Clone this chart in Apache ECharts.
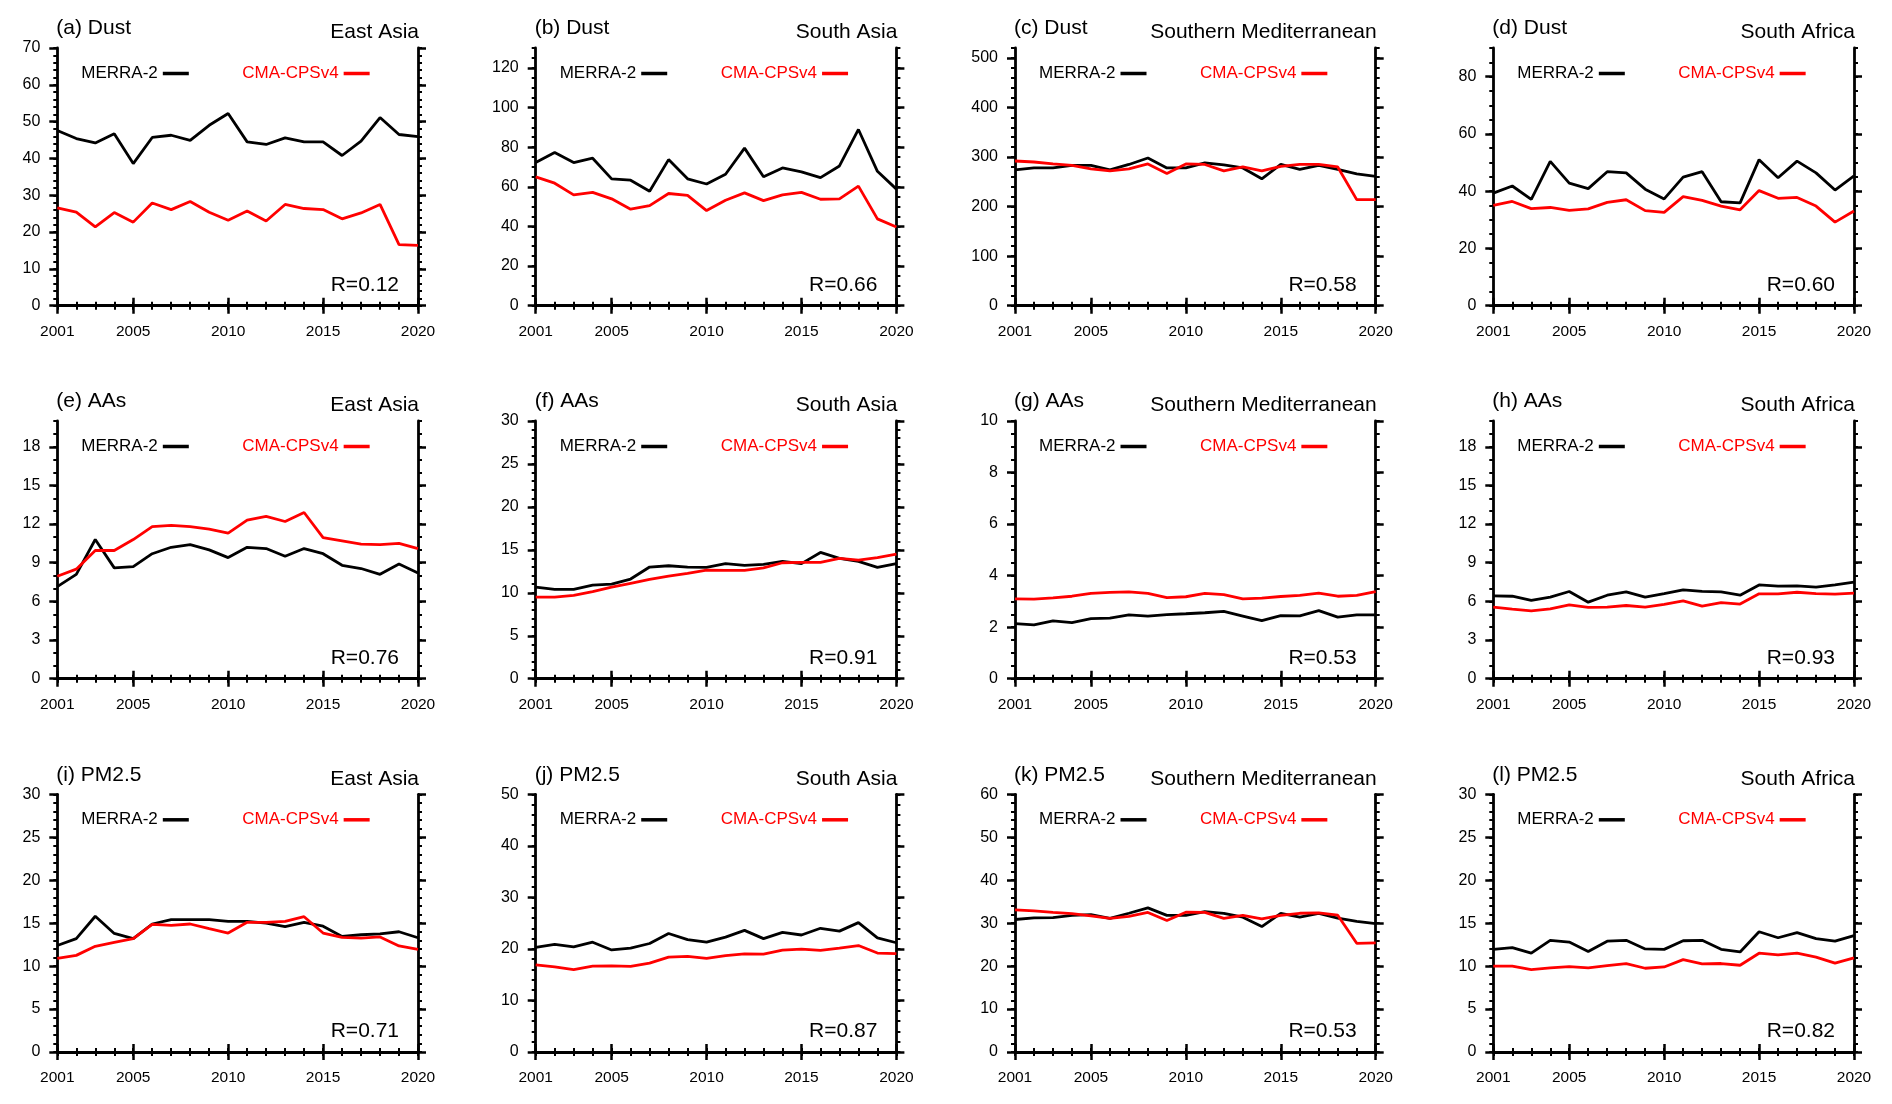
<!DOCTYPE html>
<html>
<head>
<meta charset="utf-8">
<script src="https://cdn.jsdelivr.net/npm/echarts@6/dist/echarts.min.js"></script>
<style>
html,body{margin:0;padding:0;background:#fff;}
#chart{width:1892px;height:1104px;}
</style>
</head>
<body>
<div id="chart"></div>
<script>
// ---------- data ----------
const years = [2001,2002,2003,2004,2005,2006,2007,2008,2009,2010,2011,2012,2013,2014,2015,2016,2017,2018,2019,2020];
const xTickLabels = [2001,2005,2010,2015,2020];
const panelLabels = ['(a) Dust','(b) Dust','(c) Dust','(d) Dust','(e) AAs','(f) AAs','(g) AAs','(h) AAs','(i) PM2.5','(j) PM2.5','(k) PM2.5','(l) PM2.5'];
const regions = ['East Asia','South Asia','Southern Mediterranean','South Africa','East Asia','South Asia','Southern Mediterranean','South Africa','East Asia','South Asia','Southern Mediterranean','South Africa'];
const rValues = ['R=0.12','R=0.66','R=0.58','R=0.60','R=0.76','R=0.91','R=0.53','R=0.93','R=0.71','R=0.87','R=0.53','R=0.82'];
const yMax   = [70,130,520,90, 20,30,10,20, 30,50,60,30];
const yStep  = [10,20,100,20, 3,5,2,3, 5,10,10,5];
const yMinor = [2,5,20,5, 1,1,0.5,1, 1,2,2,1];
const seriesNames = ['MERRA-2','CMA-CPSv4'];

const merra_a = [47.6,45.4,44.2,46.7,38.6,45.7,46.3,44.9,49.0,52.2,44.5,43.8,45.6,44.5,44.5,40.8,44.7,51.1,46.5,45.9];
const cma_a   = [26.6,25.4,21.4,25.3,22.7,27.9,26.1,28.3,25.4,23.2,25.7,23.0,27.5,26.4,26.1,23.6,25.2,27.5,16.6,16.4];
const merra_b = [72.2,77.3,72.2,74.4,64.0,63.3,57.7,73.7,64.0,61.4,66.3,79.5,65.0,69.5,67.5,64.6,70.5,88.9,67.8,58.8];
const cma_b   = [65.0,61.8,55.9,57.2,53.9,48.7,50.5,56.6,55.7,48.0,53.2,56.9,53.0,55.9,57.2,53.7,53.9,60.3,43.8,39.7];
const merra_c = [274,278,278,283,283,274,285,298,278,278,288,284,278,256,285,275,283,275,266,261];
const cma_c   = [292,290,286,283,276,272,276,286,267,286,285,272,280,272,281,285,285,280,214,214];
const merra_d = [39.3,41.8,37.1,50.4,42.8,40.9,46.8,46.4,40.7,37.3,44.9,46.8,36.3,35.9,51.0,44.7,50.5,46.4,40.4,45.3];
const cma_d   = [35.0,36.4,33.9,34.3,33.3,33.8,36.1,37.0,33.2,32.6,38.1,36.8,34.8,33.5,40.2,37.5,37.8,34.8,29.2,33.1];
const merra_e = [7.15,8.1,10.8,8.6,8.7,9.7,10.2,10.4,10.0,9.4,10.2,10.1,9.5,10.1,9.7,8.8,8.55,8.1,8.9,8.2];
const cma_e   = [7.95,8.5,9.95,9.95,10.8,11.8,11.9,11.8,11.6,11.3,12.3,12.6,12.2,12.9,10.95,10.7,10.45,10.4,10.5,10.1];
const merra_f = [10.65,10.4,10.4,10.9,11.0,11.6,13.0,13.15,13.0,12.95,13.4,13.2,13.3,13.65,13.4,14.7,14.0,13.65,12.95,13.4];
const cma_f   = [9.5,9.5,9.7,10.15,10.65,11.1,11.55,11.95,12.25,12.65,12.6,12.6,12.9,13.5,13.55,13.55,14.0,13.8,14.1,14.5];
const merra_g = [2.14,2.09,2.24,2.18,2.33,2.35,2.48,2.43,2.49,2.52,2.56,2.61,2.43,2.25,2.45,2.44,2.64,2.39,2.48,2.48];
const cma_g   = [3.10,3.09,3.14,3.20,3.31,3.35,3.37,3.31,3.15,3.18,3.31,3.26,3.10,3.13,3.19,3.23,3.32,3.20,3.23,3.38];
const merra_h = [6.43,6.4,6.07,6.33,6.77,5.94,6.48,6.74,6.33,6.61,6.9,6.77,6.74,6.48,7.28,7.18,7.2,7.1,7.28,7.49];
const cma_h   = [5.55,5.4,5.27,5.42,5.73,5.53,5.55,5.68,5.55,5.76,6.04,5.63,5.91,5.79,6.59,6.59,6.71,6.61,6.56,6.64];
const merra_i = [12.4,13.2,15.8,13.8,13.2,14.9,15.4,15.4,15.4,15.2,15.2,15.0,14.6,15.1,14.65,13.45,13.65,13.75,14.0,13.3];
const cma_i   = [10.9,11.25,12.3,12.75,13.2,14.85,14.75,14.9,14.35,13.85,15.1,15.1,15.2,15.75,13.85,13.35,13.25,13.4,12.35,11.95];
const merra_j = [20.3,20.9,20.4,21.3,19.8,20.15,21.05,23.0,21.8,21.3,22.3,23.6,22.0,23.2,22.7,24.0,23.45,25.1,22.15,21.2];
const cma_j   = [16.9,16.5,16.0,16.65,16.7,16.6,17.25,18.4,18.55,18.15,18.7,19.05,19.0,19.75,19.95,19.7,20.15,20.65,19.2,19.1];
const merra_k = [30.85,31.25,31.3,31.8,32.0,31.1,32.3,33.55,31.8,31.8,32.7,32.3,31.4,29.2,32.3,31.4,32.25,31.15,30.4,29.9];
const cma_k   = [33.1,32.85,32.5,32.2,31.7,31.1,31.6,32.5,30.6,32.55,32.5,31.1,31.8,31.0,31.8,32.3,32.4,31.85,25.3,25.4];
const merra_l = [11.95,12.15,11.5,13.0,12.8,11.7,12.9,13.0,12.0,11.95,12.95,13.0,11.95,11.65,14.0,13.3,13.9,13.2,12.9,13.55];
const cma_l   = [10.0,10.0,9.6,9.8,9.95,9.8,10.05,10.3,9.75,9.9,10.75,10.25,10.3,10.1,11.5,11.3,11.5,11.05,10.35,10.95];

const merraAll = [merra_a,merra_b,merra_c,merra_d,merra_e,merra_f,merra_g,merra_h,merra_i,merra_j,merra_k,merra_l];
const cmaAll   = [cma_a,cma_b,cma_c,cma_d,cma_e,cma_f,cma_g,cma_h,cma_i,cma_j,cma_k,cma_l];

// ---------- layout ----------
const W = 1892;
const colLeft = [57.3, 535.7, 1015, 1493.3];
const rowTop = [48, 421, 794.3];
const gw = 360.7, gh = 257.7;
const FONT = 'Liberation Sans, Arial, Helvetica, sans-serif';
const RED = '#ff0000';
const AXW = 2.8;

const grid = [], xAxis = [], yAxis = [], series = [], title = [], legend = [];

function ticksFor(max, step) {
  const t = [];
  for (let v = 0; v <= max + 1e-9; v += step) t.push(+v.toFixed(6));
  return t;
}

for (let p = 0; p < 12; p++) {
  const r = Math.floor(p / 4), c = p % 4;
  const L = colLeft[c], T = rowTop[r];
  grid.push({left: L, top: T, width: gw, height: gh, containLabel: false});
  const gi = p;
  const majors = ticksFor(yMax[p], yStep[p]);
  const lineAx = {show: true, lineStyle: {color: '#000', width: AXW}};
  // x axes: bottom major (labels), bottom minor, top major, top minor
  const xBase = {type: 'value', gridIndex: gi, min: 2001, max: 2020, splitLine: {show: false}};
  xAxis.push(Object.assign({}, xBase, {
    position: 'bottom', axisLine: lineAx,
    axisTick: {show: true, length: 8, lineStyle: {width: 2.5, color: '#000'}, customValues: xTickLabels},
    axisLabel: {show: true, customValues: xTickLabels, fontSize: 15.5, color: '#000', fontFamily: FONT, margin: 18, formatter: v => String(v)}
  }));
  xAxis.push(Object.assign({}, xBase, {
    position: 'bottom', interval: 1, axisLine: {show: false},
    axisTick: {show: true, length: 4, lineStyle: {width: 2, color: '#000'}},
    axisLabel: {show: false}
  }));
  xAxis.push(Object.assign({}, xBase, {
    position: 'top', axisLine: lineAx,
    axisTick: {show: true, length: 8, lineStyle: {width: 2.5, color: '#000'}, customValues: xTickLabels},
    axisLabel: {show: false}
  }));
  xAxis.push(Object.assign({}, xBase, {
    position: 'top', interval: 1, axisLine: {show: false},
    axisTick: {show: true, length: 4, lineStyle: {width: 2, color: '#000'}},
    axisLabel: {show: false}
  }));
  // y axes
  const yBase = {type: 'value', gridIndex: gi, min: 0, max: yMax[p], splitLine: {show: false}};
  yAxis.push(Object.assign({}, yBase, {
    position: 'left', axisLine: lineAx,
    axisTick: {show: true, length: 8, lineStyle: {width: 2.5, color: '#000'}, customValues: majors},
    axisLabel: {show: true, customValues: majors, fontSize: 16, color: '#000', fontFamily: FONT, margin: 17, formatter: v => String(v)}
  }));
  yAxis.push(Object.assign({}, yBase, {
    position: 'left', interval: yMinor[p], axisLine: {show: false},
    axisTick: {show: true, length: 4, lineStyle: {width: 2, color: '#000'}},
    axisLabel: {show: false}
  }));
  yAxis.push(Object.assign({}, yBase, {
    position: 'right', axisLine: lineAx,
    axisTick: {show: true, length: 8, lineStyle: {width: 2.5, color: '#000'}, customValues: majors},
    axisLabel: {show: false}
  }));
  yAxis.push(Object.assign({}, yBase, {
    position: 'right', interval: yMinor[p], axisLine: {show: false},
    axisTick: {show: true, length: 4, lineStyle: {width: 2, color: '#000'}},
    axisLabel: {show: false}
  }));

  const mk = (name, arr, color) => ({
    name: name, type: 'line', xAxisIndex: p * 4, yAxisIndex: p * 4,
    data: years.map((y, i) => [y, arr[i]]),
    symbol: 'none', silent: true, animation: false,
    lineStyle: {color: color, width: 2.8}, itemStyle: {color: color}, z: 3
  });
  series.push(mk(seriesNames[0], merraAll[p], '#000'));
  series.push(mk(seriesNames[1], cmaAll[p], RED));

  // titles
  title.push({text: panelLabels[p], left: L - 1, top: T - 30, padding: 0,
    textStyle: {fontSize: 21, fontWeight: 'normal', color: '#000', fontFamily: FONT}});
  title.push({text: regions[p], right: W - (L + gw) - 1, top: T - 26, padding: 0,
    textStyle: {fontSize: 21, fontWeight: 'normal', color: '#000', fontFamily: FONT}});
  title.push({text: rValues[p], right: W - (L + gw) + 19, top: T + gh - 31, padding: 0,
    textStyle: {fontSize: 21, fontWeight: 'normal', color: '#000', fontFamily: FONT}});

  // legends
  const legBase = {top: T + 17, orient: 'horizontal', align: 'right', padding: 0,
    itemWidth: 26, itemHeight: 18, selectedMode: false, icon: 'path://M0,0L26,0L26,3.5L0,3.5Z'};
  legend.push(Object.assign({}, legBase, {left: L + 24,
    data: [{name: seriesNames[0], itemStyle: {color: '#000'}, textStyle: {color: '#000', fontSize: 17, fontFamily: FONT}}]}));
  legend.push(Object.assign({}, legBase, {left: L + 185,
    data: [{name: seriesNames[1], itemStyle: {color: RED}, textStyle: {color: RED, fontSize: 17, fontFamily: FONT}}]}));
}

const chart = echarts.init(document.getElementById('chart'), null, {renderer: 'canvas'});
chart.setOption({backgroundColor: '#fff', animation: false, grid, xAxis, yAxis, series, title, legend});
</script>
</body>
</html>
